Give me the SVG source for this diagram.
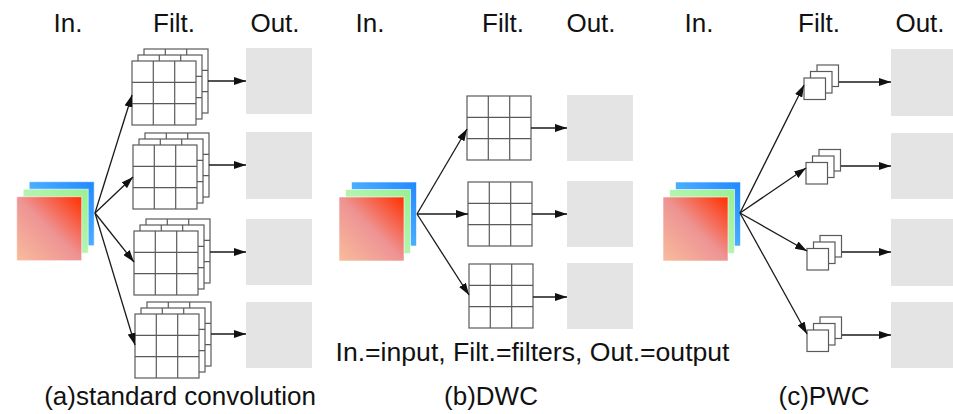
<svg xmlns="http://www.w3.org/2000/svg" xmlns:xlink="http://www.w3.org/1999/xlink" width="953" height="414" viewBox="0 0 953 414">
<style>
  .t { font-family: "Liberation Sans", Arial, sans-serif; font-size: 26px; fill: #111; text-anchor: middle; }
  .out { fill: #e4e4e4; }
  .conn { stroke: #1a1a1a; stroke-width: 1.3; fill: none; marker-end: url(#ah); }
  .gbox { fill: #fff; stroke: #5a5a5a; stroke-width: 1.2; }
  .gline { stroke: #5a5a5a; stroke-width: 1.2; }
  .in { stroke: #fff; stroke-opacity: 0.6; stroke-width: 1; }
</style>
<defs>
  <marker id="ah" viewBox="0 0 12 8" refX="12" refY="4" markerWidth="12" markerHeight="8" markerUnits="userSpaceOnUse" orient="auto">
    <path d="M0,0 L12,4 L0,8 z" fill="#111"/>
  </marker>
  <linearGradient id="gRed" x1="0" y1="1" x2="1" y2="0">
    <stop offset="0" stop-color="#f8bc9c"/>
    <stop offset="0.5" stop-color="#ee9494"/>
    <stop offset="1" stop-color="#ff3000"/>
  </linearGradient>
  <linearGradient id="gGreen" x1="0" y1="1" x2="1" y2="0">
    <stop offset="0" stop-color="#cdf8cd"/>
    <stop offset="1" stop-color="#98f090"/>
  </linearGradient>
  <linearGradient id="gBlue" x1="0" y1="1" x2="1" y2="0">
    <stop offset="0" stop-color="#70d0ff"/>
    <stop offset="1" stop-color="#2088ff"/>
  </linearGradient>
  <g id="input">
    <rect class="in" x="12.5" y="0" width="65" height="64" fill="url(#gBlue)"/>
    <rect class="in" x="6.5" y="7.5" width="65" height="64" fill="url(#gGreen)"/>
    <rect class="in" x="0" y="15" width="65" height="64" fill="url(#gRed)"/>
  </g>
  <g id="grid">
    <rect class="gbox" x="0" y="0" width="64" height="64"/>
    <path class="gline" d="M21.3,0V64M42.7,0V64M0,21.3H64M0,42.7H64"/>
  </g>
  <g id="stack">
    <use xlink:href="#grid" x="12" y="-12"/>
    <use xlink:href="#grid" x="6" y="-6"/>
    <use xlink:href="#grid" x="0" y="0"/>
  </g>
  <rect id="sq" class="gbox" x="0" y="0" width="21.5" height="21.5"/>
  <g id="sstack">
    <use xlink:href="#sq" x="13" y="-13"/>
    <use xlink:href="#sq" x="6.5" y="-6.5"/>
    <use xlink:href="#sq" x="0" y="0"/>
  </g>
</defs>

<g id="labels">
  <text class="t" x="68" y="32">In.</text>
  <text class="t" x="174" y="32">Filt.</text>
  <text class="t" x="275" y="32">Out.</text>
  <text class="t" x="370" y="32">In.</text>
  <text class="t" x="503" y="32">Filt.</text>
  <text class="t" x="591" y="32">Out.</text>
  <text class="t" x="699" y="32">In.</text>
  <text class="t" x="819" y="32">Filt.</text>
  <text class="t" x="920" y="32">Out.</text>
  <text class="t" x="532.5" y="361" textLength="394" lengthAdjust="spacingAndGlyphs">In.=input, Filt.=filters, Out.=output</text>
  <text class="t" x="180" y="405">(a)standard convolution</text>
  <text class="t" x="491" y="405">(b)DWC</text>
  <text class="t" x="824" y="405">(c)PWC</text>
</g>

<!-- Panel (a) -->
<g id="a-input"><use xlink:href="#input" x="16.7" y="181.7"/></g>
<g id="a-filt1"><use xlink:href="#stack" x="132" y="61"/></g>
<g id="a-filt2"><use xlink:href="#stack" x="133" y="145"/></g>
<g id="a-filt3"><use xlink:href="#stack" x="134" y="231"/></g>
<g id="a-filt4"><use xlink:href="#stack" x="135" y="314"/></g>
<g id="a-out1"><rect class="out" x="246" y="48" width="66" height="66"/></g>
<g id="a-out2"><rect class="out" x="246" y="132" width="66" height="67"/></g>
<g id="a-out3"><rect class="out" x="246" y="219" width="66" height="66"/></g>
<g id="a-out4"><rect class="out" x="246" y="302" width="66" height="66"/></g>

<!-- Panel (b) -->
<g id="b-input"><use xlink:href="#input" x="339" y="182"/></g>
<g id="b-filt1"><use xlink:href="#grid" x="467" y="96"/></g>
<g id="b-filt2"><use xlink:href="#grid" x="468" y="182"/></g>
<g id="b-filt3"><use xlink:href="#grid" x="469" y="264"/></g>
<g id="b-out1"><rect class="out" x="567" y="95" width="66" height="66"/></g>
<g id="b-out2"><rect class="out" x="567" y="181" width="66" height="66"/></g>
<g id="b-out3"><rect class="out" x="567" y="263" width="66" height="66"/></g>

<!-- Panel (c) -->
<g id="c-input"><use xlink:href="#input" x="663" y="182"/></g>
<g id="c-filt1"><use xlink:href="#sstack" x="804" y="78"/></g>
<g id="c-filt2"><use xlink:href="#sstack" x="806" y="162.5"/></g>
<g id="c-filt3"><use xlink:href="#sstack" x="807" y="248.5"/></g>
<g id="c-filt4"><use xlink:href="#sstack" x="807" y="330"/></g>
<g id="c-out1"><rect class="out" x="891" y="49" width="62" height="67"/></g>
<g id="c-out2"><rect class="out" x="891" y="133" width="62" height="66"/></g>
<g id="c-out3"><rect class="out" x="891" y="219" width="62" height="67"/></g>
<g id="c-out4"><rect class="out" x="891" y="302" width="62" height="66"/></g>

<g id="connectors">
  <line class="conn" x1="95" y1="213" x2="132" y2="95"/>
  <line class="conn" x1="95" y1="213" x2="133" y2="177"/>
  <line class="conn" x1="95" y1="213" x2="134" y2="262"/>
  <line class="conn" x1="95" y1="213" x2="135" y2="345"/>
  <line class="conn" x1="208" y1="81" x2="246" y2="81"/>
  <line class="conn" x1="209" y1="165" x2="246" y2="165"/>
  <line class="conn" x1="210" y1="252" x2="246" y2="252"/>
  <line class="conn" x1="211" y1="334" x2="246" y2="334"/>

  <line class="conn" x1="417" y1="214" x2="467" y2="129"/>
  <line class="conn" x1="417" y1="214" x2="468" y2="214"/>
  <line class="conn" x1="417" y1="214" x2="469" y2="295"/>
  <line class="conn" x1="531" y1="128" x2="567" y2="128"/>
  <line class="conn" x1="532" y1="214" x2="567" y2="214"/>
  <line class="conn" x1="533" y1="297" x2="567" y2="297"/>

  <line class="conn" x1="740" y1="213" x2="804" y2="85"/>
  <line class="conn" x1="740" y1="213" x2="806" y2="168"/>
  <line class="conn" x1="740" y1="213" x2="807" y2="251"/>
  <line class="conn" x1="740" y1="213" x2="807" y2="334"/>
  <line class="conn" x1="839" y1="82" x2="891" y2="82"/>
  <line class="conn" x1="841" y1="166" x2="891" y2="166"/>
  <line class="conn" x1="842" y1="252" x2="891" y2="252"/>
  <line class="conn" x1="842" y1="335" x2="891" y2="335"/>
</g>
</svg>
